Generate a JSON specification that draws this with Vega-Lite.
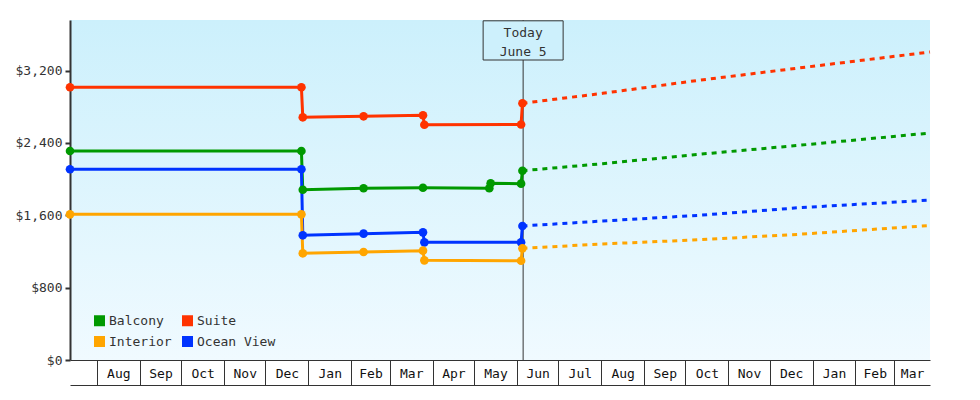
{
  "$schema": "https://vega.github.io/schema/vega-lite/v6.json",
  "width": 860,
  "height": 340,
  "autosize": {"type": "none"},
  "padding": {"left": 70, "top": 20, "right": 50, "bottom": 40},
  "background": "white",
  "config": {
    "font": "DejaVu Sans Mono",
    "view": {
      "stroke": null,
      "fill": {"gradient": "linear", "x1": 0, "y1": 0, "x2": 0, "y2": 1,
        "stops": [{"offset": 0, "color": "#ccf0fc"}, {"offset": 1, "color": "#f0faff"}]}
    },
    "legend": {"orient": "none", "legendX": 23, "legendY": 294, "columns": 2, "title": null, "padding": 0, "symbolType": "square", "symbolSize": 121, "symbolStrokeWidth": 0, "symbolOpacity": 1, "labelFont": "DejaVu Sans Mono", "labelFontSize": 13, "labelColor": "#333333", "labelOffset": 3, "columnPadding": 9, "rowPadding": 7}
  },
  "datasets": {
    "prices": [
      {"series": "Suite", "kind": "history", "date": "2017-07-12T12:00:00Z", "price": 3016},
      {"series": "Suite", "kind": "history", "date": "2017-12-27T00:00:00Z", "price": 3016},
      {"series": "Suite", "kind": "history", "date": "2017-12-28T00:00:00Z", "price": 2684},
      {"series": "Suite", "kind": "history", "date": "2018-02-10T00:00:00Z", "price": 2695},
      {"series": "Suite", "kind": "history", "date": "2018-03-25T00:00:00Z", "price": 2706},
      {"series": "Suite", "kind": "history", "date": "2018-03-26T00:00:00Z", "price": 2602},
      {"series": "Suite", "kind": "history", "date": "2018-06-04T00:00:00Z", "price": 2604},
      {"series": "Suite", "kind": "history", "date": "2018-06-05T00:00:00Z", "price": 2839},
      {"series": "Balcony", "kind": "history", "date": "2017-07-12T12:00:00Z", "price": 2311},
      {"series": "Balcony", "kind": "history", "date": "2017-12-27T00:00:00Z", "price": 2311},
      {"series": "Balcony", "kind": "history", "date": "2017-12-28T00:00:00Z", "price": 1883},
      {"series": "Balcony", "kind": "history", "date": "2018-02-10T00:00:00Z", "price": 1899},
      {"series": "Balcony", "kind": "history", "date": "2018-03-25T00:00:00Z", "price": 1905},
      {"series": "Balcony", "kind": "history", "date": "2018-05-12T00:00:00Z", "price": 1900},
      {"series": "Balcony", "kind": "history", "date": "2018-05-13T00:00:00Z", "price": 1954},
      {"series": "Balcony", "kind": "history", "date": "2018-06-04T00:00:00Z", "price": 1950},
      {"series": "Balcony", "kind": "history", "date": "2018-06-05T00:00:00Z", "price": 2093},
      {"series": "Ocean View", "kind": "history", "date": "2017-07-12T12:00:00Z", "price": 2109},
      {"series": "Ocean View", "kind": "history", "date": "2017-12-27T00:00:00Z", "price": 2109},
      {"series": "Ocean View", "kind": "history", "date": "2017-12-28T00:00:00Z", "price": 1379},
      {"series": "Ocean View", "kind": "history", "date": "2018-02-10T00:00:00Z", "price": 1397},
      {"series": "Ocean View", "kind": "history", "date": "2018-03-25T00:00:00Z", "price": 1412},
      {"series": "Ocean View", "kind": "history", "date": "2018-03-26T00:00:00Z", "price": 1301},
      {"series": "Ocean View", "kind": "history", "date": "2018-06-04T00:00:00Z", "price": 1301},
      {"series": "Ocean View", "kind": "history", "date": "2018-06-05T00:00:00Z", "price": 1482},
      {"series": "Interior", "kind": "history", "date": "2017-07-12T12:00:00Z", "price": 1611},
      {"series": "Interior", "kind": "history", "date": "2017-12-27T00:00:00Z", "price": 1611},
      {"series": "Interior", "kind": "history", "date": "2017-12-28T00:00:00Z", "price": 1180},
      {"series": "Interior", "kind": "history", "date": "2018-02-10T00:00:00Z", "price": 1194},
      {"series": "Interior", "kind": "history", "date": "2018-03-25T00:00:00Z", "price": 1209},
      {"series": "Interior", "kind": "history", "date": "2018-03-26T00:00:00Z", "price": 1102},
      {"series": "Interior", "kind": "history", "date": "2018-06-04T00:00:00Z", "price": 1098},
      {"series": "Interior", "kind": "history", "date": "2018-06-05T00:00:00Z", "price": 1235},
      {"series": "Suite", "kind": "projection", "date": "2018-06-05T00:00:00Z", "price": 2839},
      {"series": "Suite", "kind": "projection", "date": "2018-08-02T00:00:00Z", "price": 2949},
      {"series": "Suite", "kind": "projection", "date": "2018-10-11T00:00:00Z", "price": 3094},
      {"series": "Suite", "kind": "projection", "date": "2018-12-22T00:00:00Z", "price": 3229},
      {"series": "Suite", "kind": "projection", "date": "2019-03-27T00:00:00Z", "price": 3406},
      {"series": "Balcony", "kind": "projection", "date": "2018-06-05T00:00:00Z", "price": 2093},
      {"series": "Balcony", "kind": "projection", "date": "2018-08-02T00:00:00Z", "price": 2171},
      {"series": "Balcony", "kind": "projection", "date": "2018-10-11T00:00:00Z", "price": 2275},
      {"series": "Balcony", "kind": "projection", "date": "2018-12-22T00:00:00Z", "price": 2374},
      {"series": "Balcony", "kind": "projection", "date": "2019-03-27T00:00:00Z", "price": 2510},
      {"series": "Ocean View", "kind": "projection", "date": "2018-06-05T00:00:00Z", "price": 1482},
      {"series": "Ocean View", "kind": "projection", "date": "2018-08-02T00:00:00Z", "price": 1537},
      {"series": "Ocean View", "kind": "projection", "date": "2018-10-11T00:00:00Z", "price": 1600},
      {"series": "Ocean View", "kind": "projection", "date": "2018-12-22T00:00:00Z", "price": 1684},
      {"series": "Ocean View", "kind": "projection", "date": "2019-03-27T00:00:00Z", "price": 1768},
      {"series": "Interior", "kind": "projection", "date": "2018-06-05T00:00:00Z", "price": 1235},
      {"series": "Interior", "kind": "projection", "date": "2018-08-02T00:00:00Z", "price": 1283},
      {"series": "Interior", "kind": "projection", "date": "2018-10-11T00:00:00Z", "price": 1330},
      {"series": "Interior", "kind": "projection", "date": "2018-12-22T00:00:00Z", "price": 1390},
      {"series": "Interior", "kind": "projection", "date": "2019-03-27T00:00:00Z", "price": 1487}
    ],
    "today": [{"date": "2018-06-05T12:00:00Z", "label": ["Today", "June 5"]}]
  },
  "resolve": {"axis": {"x": "independent"}},
  "layer": [
    {
      "data": {"name": "today"},
      "mark": {"type": "rule", "color": "#333333", "strokeWidth": 1},
      "encoding": {
        "x": {"field": "date", "type": "temporal", "axis": null,
          "scale": {"type": "utc", "domain": [{"year": 2017, "month": 7, "date": 12, "hours": 12, "utc": true}, {"year": 2019, "month": 3, "date": 27, "utc": true}]}}
      }
    },
    {
      "data": {"name": "today"},
      "mark": {"type": "point", "shape": "M-1,0.02H1V1H-1Z", "size": 6400, "filled": true, "fill": "#cdf0fc", "stroke": "#333333", "strokeWidth": 1, "opacity": 1, "strokeOpacity": 1, "fillOpacity": 1},
      "encoding": {
        "x": {"field": "date", "type": "temporal", "axis": null,
          "scale": {"type": "utc", "domain": [{"year": 2017, "month": 7, "date": 12, "hours": 12, "utc": true}, {"year": 2019, "month": 3, "date": 27, "utc": true}]}},
        "y": {"datum": 3760, "type": "quantitative", "scale": {"domain": [0, 3760], "nice": false, "zero": true},
          "axis": {"title": null, "grid": false, "values": [0, 800, 1600, 2400, 3200], "format": "$,.0f", "domainColor": "#333333", "domainWidth": 2, "tickColor": "#333333", "tickWidth": 2, "tickSize": 5, "labelPadding": 3, "labelFont": "DejaVu Sans Mono", "labelFontSize": 13, "labelColor": "#333333"}}
      }
    },
    {
      "data": {"name": "today"},
      "mark": {"type": "text", "align": "center", "baseline": "alphabetic", "dy": 17, "lineHeight": 18.5, "fontSize": 13, "font": "DejaVu Sans Mono", "color": "#333333"},
      "encoding": {
        "x": {"field": "date", "type": "temporal", "axis": null,
          "scale": {"type": "utc", "domain": [{"year": 2017, "month": 7, "date": 12, "hours": 12, "utc": true}, {"year": 2019, "month": 3, "date": 27, "utc": true}]}},
        "y": {"datum": 3760, "type": "quantitative", "scale": {"domain": [0, 3760], "nice": false, "zero": true},
          "axis": {"title": null, "grid": false, "values": [0, 800, 1600, 2400, 3200], "format": "$,.0f", "domainColor": "#333333", "domainWidth": 2, "tickColor": "#333333", "tickWidth": 2, "tickSize": 5, "labelPadding": 3, "labelFont": "DejaVu Sans Mono", "labelFontSize": 13, "labelColor": "#333333"}},
        "text": {"field": "label", "type": "nominal"}
      }
    },
    {
      "data": {"name": "prices"},
      "transform": [{"filter": "datum.kind === 'history'"}],
      "mark": {"type": "line", "strokeWidth": 3, "clip": false},
      "encoding": {
        "x": {"field": "date", "type": "temporal",
          "scale": {"type": "utc", "domain": [{"year": 2017, "month": 7, "date": 12, "hours": 12, "utc": true}, {"year": 2019, "month": 3, "date": 27, "utc": true}]},
          "axis": {"orient": "bottom", "title": null, "labels": false, "grid": false, "domain": true, "domainColor": "#333333", "domainWidth": 1, "ticks": true, "tickSize": 25, "tickColor": "#333333", "tickWidth": 1,
            "values": [
              {"year": 2017, "month": 8, "date": 1, "utc": true}, {"year": 2017, "month": 9, "date": 1, "utc": true}, {"year": 2017, "month": 10, "date": 1, "utc": true}, {"year": 2017, "month": 11, "date": 1, "utc": true}, {"year": 2017, "month": 12, "date": 1, "utc": true},
              {"year": 2018, "month": 1, "date": 1, "utc": true}, {"year": 2018, "month": 2, "date": 1, "utc": true}, {"year": 2018, "month": 3, "date": 1, "utc": true}, {"year": 2018, "month": 4, "date": 1, "utc": true}, {"year": 2018, "month": 5, "date": 1, "utc": true}, {"year": 2018, "month": 6, "date": 1, "utc": true}, {"year": 2018, "month": 7, "date": 1, "utc": true}, {"year": 2018, "month": 8, "date": 1, "utc": true}, {"year": 2018, "month": 9, "date": 1, "utc": true}, {"year": 2018, "month": 10, "date": 1, "utc": true}, {"year": 2018, "month": 11, "date": 1, "utc": true}, {"year": 2018, "month": 12, "date": 1, "utc": true},
              {"year": 2019, "month": 1, "date": 1, "utc": true}, {"year": 2019, "month": 2, "date": 1, "utc": true}, {"year": 2019, "month": 3, "date": 1, "utc": true}
            ]}},
        "y": {"field": "price", "type": "quantitative", "scale": {"domain": [0, 3760], "nice": false, "zero": true},
          "axis": {"title": null, "grid": false, "values": [0, 800, 1600, 2400, 3200], "format": "$,.0f", "domainColor": "#333333", "domainWidth": 2, "tickColor": "#333333", "tickWidth": 2, "tickSize": 5, "labelPadding": 3, "labelFont": "DejaVu Sans Mono", "labelFontSize": 13, "labelColor": "#333333"}},
        "color": {"field": "series", "type": "nominal",
          "scale": {"domain": ["Balcony", "Interior", "Suite", "Ocean View"], "range": ["#009900", "#ffa500", "#ff3300", "#0033ff"]}}
      }
    },
    {
      "data": {"name": "prices"},
      "transform": [{"filter": "datum.kind === 'projection'"}],
      "mark": {"type": "line", "strokeWidth": 3, "strokeDash": [5, 5], "clip": false},
      "encoding": {
        "x": {"field": "date", "type": "temporal",
          "scale": {"type": "utc", "domain": [{"year": 2017, "month": 7, "date": 12, "hours": 12, "utc": true}, {"year": 2019, "month": 3, "date": 27, "utc": true}]},
          "axis": {"orient": "bottom", "offset": 25, "title": null, "grid": false, "domain": true, "domainColor": "#333333", "domainWidth": 1, "ticks": false, "tickSize": 0, "labels": true, "labelPadding": -12, "labelBaseline": "middle", "labelAlign": "center", "labelFlush": false, "labelOverlap": false, "format": "%b", "labelFont": "DejaVu Sans Mono", "labelFontSize": 13, "labelColor": "#111111",
            "values": [
              {"year": 2017, "month": 8, "date": 16, "hours": 12, "utc": true}, {"year": 2017, "month": 9, "date": 16, "utc": true}, {"year": 2017, "month": 10, "date": 16, "hours": 12, "utc": true}, {"year": 2017, "month": 11, "date": 16, "utc": true}, {"year": 2017, "month": 12, "date": 16, "hours": 12, "utc": true},
              {"year": 2018, "month": 1, "date": 16, "hours": 12, "utc": true}, {"year": 2018, "month": 2, "date": 15, "utc": true}, {"year": 2018, "month": 3, "date": 16, "hours": 12, "utc": true}, {"year": 2018, "month": 4, "date": 16, "utc": true}, {"year": 2018, "month": 5, "date": 16, "hours": 12, "utc": true}, {"year": 2018, "month": 6, "date": 16, "utc": true}, {"year": 2018, "month": 7, "date": 16, "hours": 12, "utc": true}, {"year": 2018, "month": 8, "date": 16, "hours": 12, "utc": true}, {"year": 2018, "month": 9, "date": 16, "utc": true}, {"year": 2018, "month": 10, "date": 16, "hours": 12, "utc": true}, {"year": 2018, "month": 11, "date": 16, "utc": true}, {"year": 2018, "month": 12, "date": 16, "hours": 12, "utc": true},
              {"year": 2019, "month": 1, "date": 16, "hours": 12, "utc": true}, {"year": 2019, "month": 2, "date": 15, "utc": true}, {"year": 2019, "month": 3, "date": 14, "utc": true}
            ]}},
        "y": {"field": "price", "type": "quantitative", "scale": {"domain": [0, 3760], "nice": false, "zero": true},
          "axis": {"title": null, "grid": false, "values": [0, 800, 1600, 2400, 3200], "format": "$,.0f", "domainColor": "#333333", "domainWidth": 2, "tickColor": "#333333", "tickWidth": 2, "tickSize": 5, "labelPadding": 3, "labelFont": "DejaVu Sans Mono", "labelFontSize": 13, "labelColor": "#333333"}},
        "color": {"field": "series", "type": "nominal",
          "scale": {"domain": ["Balcony", "Interior", "Suite", "Ocean View"], "range": ["#009900", "#ffa500", "#ff3300", "#0033ff"]}}
      }
    },
    {
      "data": {"name": "prices"},
      "transform": [{"filter": "datum.kind === 'history'"}],
      "mark": {"type": "point", "filled": true, "size": 75, "opacity": 1, "strokeWidth": 0, "clip": false},
      "encoding": {
        "x": {"field": "date", "type": "temporal", "axis": null,
          "scale": {"type": "utc", "domain": [{"year": 2017, "month": 7, "date": 12, "hours": 12, "utc": true}, {"year": 2019, "month": 3, "date": 27, "utc": true}]}},
        "y": {"field": "price", "type": "quantitative", "scale": {"domain": [0, 3760], "nice": false, "zero": true},
          "axis": {"title": null, "grid": false, "values": [0, 800, 1600, 2400, 3200], "format": "$,.0f", "domainColor": "#333333", "domainWidth": 2, "tickColor": "#333333", "tickWidth": 2, "tickSize": 5, "labelPadding": 3, "labelFont": "DejaVu Sans Mono", "labelFontSize": 13, "labelColor": "#333333"}},
        "color": {"field": "series", "type": "nominal",
          "scale": {"domain": ["Balcony", "Interior", "Suite", "Ocean View"], "range": ["#009900", "#ffa500", "#ff3300", "#0033ff"]}}
      }
    }
  ]
}
